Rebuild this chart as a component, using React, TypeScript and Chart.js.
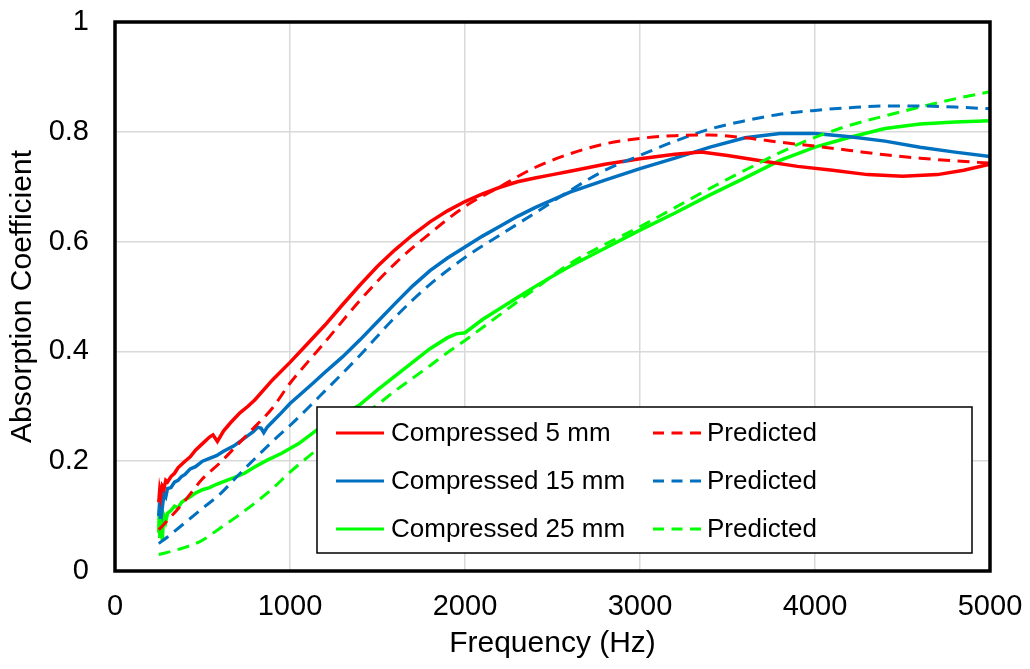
import React, { useEffect, useRef } from "react";
import { Chart, registerables } from "chart.js";

Chart.register(...registerables);

// ---- data ----
const xTicks = [0, 1000, 2000, 3000, 4000, 5000];
const yTicks = [0, 0.2, 0.4, 0.6, 0.8, 1];

const legendLabels = ["Compressed 5 mm", "Compressed 15 mm", "Compressed 25 mm"];
const predictedLabel = "Predicted";

const red5F = [250, 255, 260, 270, 280, 290, 300, 320, 340, 360, 380, 400, 430, 460, 500, 540, 560, 585, 620, 660, 714, 760, 800, 900, 1000, 1100, 1200, 1300, 1400, 1500, 1600, 1700, 1800, 1900, 2000, 2100, 2200, 2300, 2400, 2500, 2600, 2800, 3000, 3200, 3350, 3500, 3700, 3900, 4100, 4300, 4500, 4700, 4850, 5000];
const red5A = [0.125, 0.145, 0.135, 0.155, 0.15, 0.165, 0.162, 0.172, 0.178, 0.188, 0.194, 0.2, 0.208, 0.22, 0.232, 0.244, 0.248, 0.236, 0.255, 0.27, 0.288, 0.3, 0.312, 0.348, 0.38, 0.414, 0.448, 0.485, 0.521, 0.555, 0.585, 0.612, 0.636, 0.656, 0.673, 0.687, 0.699, 0.709, 0.716, 0.722, 0.728, 0.741, 0.751, 0.759, 0.763, 0.757, 0.747, 0.737, 0.73, 0.722, 0.719, 0.722, 0.73, 0.741];

const red5PF = [250, 300, 400, 500, 600, 700, 800, 900, 1000, 1100, 1200, 1400, 1600, 1800, 2000, 2200, 2400, 2600, 2800, 3000, 3200, 3400, 3600, 3800, 4000, 4200, 4400, 4600, 4800, 5000];
const red5PA = [0.075, 0.092, 0.128, 0.168, 0.197, 0.23, 0.263, 0.297, 0.342, 0.38, 0.417, 0.493, 0.56, 0.615, 0.664, 0.7, 0.735, 0.76, 0.778, 0.788, 0.793, 0.794, 0.789, 0.781, 0.774, 0.766, 0.758, 0.752, 0.747, 0.743];

const blue15F = [250, 255, 260, 265, 270, 280, 290, 300, 320, 340, 360, 380, 400, 430, 460, 500, 540, 580, 620, 680, 740, 790, 815, 835, 850, 870, 900, 950, 1000, 1060, 1131, 1200, 1300, 1400, 1500, 1600, 1700, 1800, 1900, 2000, 2100, 2200, 2300, 2400, 2500, 2600, 2800, 3000, 3200, 3400, 3600, 3800, 4000, 4200, 4400, 4600, 4800, 5000];
const blue15A = [0.1, 0.125, 0.095, 0.13, 0.115, 0.14, 0.135, 0.15, 0.152, 0.162, 0.165, 0.172, 0.176, 0.186, 0.19, 0.2, 0.205, 0.21, 0.218, 0.228, 0.242, 0.254, 0.262, 0.26, 0.252, 0.262, 0.272, 0.288, 0.305, 0.322, 0.342, 0.362, 0.39, 0.421, 0.454, 0.487, 0.519, 0.547, 0.57, 0.59, 0.61, 0.628, 0.646, 0.662, 0.676, 0.69, 0.712, 0.733, 0.752, 0.772, 0.789, 0.797, 0.797, 0.791, 0.783, 0.772, 0.763, 0.755];

const blue15PF = [250, 300, 400, 500, 600, 700, 800, 900, 1000, 1100, 1200, 1300, 1400, 1600, 1800, 2000, 2200, 2400, 2600, 2800, 3000, 3200, 3400, 3600, 3800, 4000, 4200, 4400, 4600, 4800, 5000];
const blue15PA = [0.05, 0.062, 0.088, 0.114, 0.14, 0.173, 0.205, 0.236, 0.265, 0.296, 0.328, 0.36, 0.393, 0.462, 0.522, 0.571, 0.612, 0.652, 0.693, 0.73, 0.757, 0.783, 0.805, 0.82, 0.832, 0.839, 0.844, 0.847, 0.847, 0.845, 0.842];

const green25F = [250, 253, 256, 260, 263, 266, 270, 275, 280, 290, 300, 320, 340, 360, 380, 400, 430, 460, 500, 540, 580, 620, 680, 740, 800, 870, 950, 1050, 1154, 1250, 1400, 1500, 1600, 1700, 1800, 1900, 1950, 2000, 2100, 2200, 2300, 2400, 2500, 2600, 2800, 3000, 3200, 3400, 3600, 3800, 4000, 4200, 4400, 4600, 4800, 5000];
const green25A = [0.07, 0.11, 0.06, 0.095, 0.075, 0.1, 0.055, 0.085, 0.1, 0.09, 0.105, 0.11, 0.118, 0.115, 0.125, 0.13, 0.135, 0.142, 0.148, 0.152, 0.158, 0.163, 0.17, 0.178, 0.19, 0.202, 0.214, 0.232, 0.257, 0.275, 0.303, 0.33, 0.355, 0.38, 0.405, 0.425, 0.432, 0.434, 0.458, 0.478, 0.498, 0.518, 0.537, 0.555, 0.588, 0.621, 0.652, 0.685, 0.716, 0.748, 0.772, 0.79, 0.806, 0.814, 0.818, 0.82];

const green25PF = [250, 300, 400, 500, 600, 700, 800, 900, 1000, 1100, 1200, 1300, 1400, 1500, 1600, 1700, 1800, 1900, 2000, 2200, 2400, 2600, 2800, 3000, 3200, 3400, 3600, 3800, 4000, 4200, 4400, 4600, 4800, 5000];
const green25PA = [0.03, 0.034, 0.043, 0.056, 0.078, 0.1, 0.124, 0.15, 0.18, 0.207, 0.232, 0.256, 0.28, 0.303, 0.328, 0.351, 0.374, 0.398, 0.42, 0.467, 0.514, 0.56, 0.595, 0.627, 0.662, 0.697, 0.73, 0.762, 0.79, 0.812, 0.829, 0.845, 0.86, 0.873];

const RED = "#ff0000";
const BLUE = "#0070c0";
const GREEN = "#00ff00";
const FONT = '"Liberation Sans", Arial, sans-serif';
const DASH = [12, 7.5];

const pts = (xs: number[], ys: number[]) => xs.map((x, i) => ({ x, y: ys[i] }));

const framePlugin = {
  id: "frameAndLegend",
  afterDraw(chart: any) {
    const { ctx, chartArea } = chart;
    ctx.save();
    // plot frame
    ctx.strokeStyle = "#000";
    ctx.lineWidth = 3.5;
    ctx.strokeRect(chartArea.left, chartArea.top, chartArea.right - chartArea.left, chartArea.bottom - chartArea.top);

    // legend box
    const bx = 317, by = 407, bw = 655, bh = 146;
    ctx.fillStyle = "#fff";
    ctx.fillRect(bx, by, bw, bh);
    ctx.lineWidth = 1.5;
    ctx.strokeStyle = "#000";
    ctx.strokeRect(bx, by, bw, bh);

    const colors = [RED, BLUE, GREEN];
    const rows = [433, 481, 529];
    ctx.font = `26px ${FONT}`;
    ctx.textBaseline = "middle";
    ctx.textAlign = "left";
    rows.forEach((ry, i) => {
      ctx.strokeStyle = colors[i];
      ctx.lineWidth = 3;
      ctx.setLineDash([]);
      ctx.beginPath();
      ctx.moveTo(336, ry);
      ctx.lineTo(384, ry);
      ctx.stroke();
      ctx.fillStyle = "#000";
      ctx.fillText(legendLabels[i], 391, ry + 1);

      ctx.setLineDash([11, 7.5]);
      ctx.beginPath();
      ctx.moveTo(653, ry);
      ctx.lineTo(703, ry);
      ctx.stroke();
      ctx.setLineDash([]);
      ctx.fillText(predictedLabel, 707, ry + 1);
    });
    ctx.restore();
  },
};

export default function App() {
  const ref = useRef<HTMLCanvasElement | null>(null);

  useEffect(() => {
    if (!ref.current) return;
    const measured = (label: string, xs: number[], ys: number[], color: string) => ({
      label,
      data: pts(xs, ys),
      borderColor: color,
      backgroundColor: color,
      borderWidth: 3.5,
      pointRadius: 0,
      tension: 0,
      fill: false,
    });
    const predicted = (label: string, xs: number[], ys: number[], color: string) => ({
      label,
      data: pts(xs, ys),
      borderColor: color,
      backgroundColor: color,
      borderWidth: 3,
      borderDash: DASH,
      pointRadius: 0,
      cubicInterpolationMode: "monotone" as const,
      fill: false,
    });

    const chart = new Chart(ref.current, {
      type: "line",
      data: {
        datasets: [
          predicted("Predicted 5", red5PF, red5PA, RED),
          predicted("Predicted 15", blue15PF, blue15PA, BLUE),
          predicted("Predicted 25", green25PF, green25PA, GREEN),
          measured(legendLabels[0], red5F, red5A, RED),
          measured(legendLabels[1], blue15F, blue15A, BLUE),
          measured(legendLabels[2], green25F, green25A, GREEN),
        ],
      },
      options: {
        responsive: false,
        animation: false,
        events: [],
        layout: { padding: { top: 22, right: 40, left: 0, bottom: 0 } },
        plugins: { legend: { display: false }, tooltip: { enabled: false } },
        scales: {
          x: {
            type: "linear",
            min: 0,
            max: 5000,
            afterBuildTicks: (s: any) => { s.ticks = xTicks.map((v) => ({ value: v })); },
            afterFit: (s: any) => { s.height = 98; s.paddingLeft = 0; s.paddingRight = 0; s.paddingTop = 0; s.paddingBottom = 0; },
            grid: { color: "#d9d9d9", lineWidth: 1.5, drawTicks: false },
            border: { display: false },
            ticks: { color: "#000", font: { family: FONT, size: 29 }, padding: 19, maxRotation: 0, autoSkip: false, callback: (v: any) => String(v) },
            title: { display: true, text: "Frequency (Hz)", color: "#000", font: { family: FONT, size: 30 }, padding: { top: 0, bottom: 7 } },
          },
          y: {
            type: "linear",
            min: 0,
            max: 1,
            afterBuildTicks: (s: any) => { s.ticks = yTicks.map((v) => ({ value: v })); },
            afterFit: (s: any) => { s.width = 115; s.paddingLeft = 0; s.paddingRight = 0; s.paddingTop = 0; s.paddingBottom = 0; },
            grid: { color: "#d9d9d9", lineWidth: 1.5, drawTicks: false },
            border: { display: false },
            ticks: { color: "#000", font: { family: FONT, size: 29 }, padding: 26, callback: (v: any) => String(v) },
            title: { display: true, text: "Absorption Coefficient", color: "#000", font: { family: FONT, size: 30 }, padding: { top: 5, bottom: 0 } },
          },
        },
      },
      plugins: [framePlugin],
    });
    return () => chart.destroy();
  }, []);

  return (
    <div style={{ position: "fixed", left: 0, top: 0, width: 1030, height: 669, background: "#fff" }}>
      <canvas ref={ref} width={1030} height={669} style={{ display: "block", width: 1030, height: 669 }} />
    </div>
  );
}
